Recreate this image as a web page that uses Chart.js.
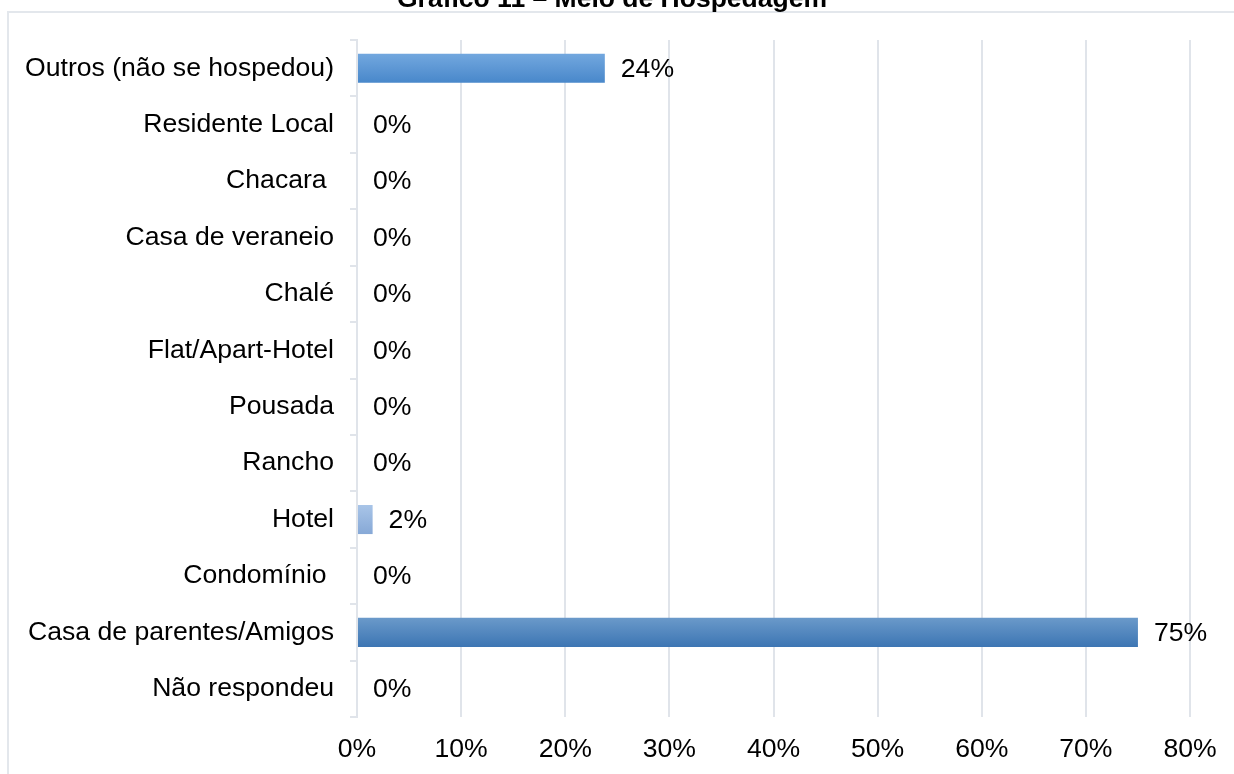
<!DOCTYPE html>
<html>
<head>
<meta charset="utf-8">
<script src="https://cdn.jsdelivr.net/npm/chart.js@4"></script>
<style>
  html, body { margin: 0; padding: 0; background: #fff; overflow: hidden; }
  #wrap { position: relative; width: 1234px; height: 774px; overflow: hidden; }
  #frame { position: absolute; left: 7px; top: 11px; width: 1300px; height: 800px;
           border: 2px solid #e3e7ec; box-sizing: border-box; }
  canvas { position: absolute; left: 0; top: 0; }
</style>
</head>
<body>
<div id="wrap">
  <div id="frame"></div>
  <canvas id="c" width="1234" height="774"></canvas>
</div>
<script>
// ---- data ----
const titleText = 'Gráfico 11 – Meio de Hospedagem';
const categories = [
  'Outros (não se hospedou)',
  'Residente Local',
  'Chacara ',
  'Casa de veraneio',
  'Chalé',
  'Flat/Apart-Hotel',
  'Pousada',
  'Rancho',
  'Hotel',
  'Condomínio ',
  'Casa de parentes/Amigos',
  'Não respondeu'
];
const percentValues = [23.8, 0, 0, 0, 0, 0, 0, 0, 1.5, 0, 75, 0];
const valueLabels = ['24%', '0%', '0%', '0%', '0%', '0%', '0%', '0%', '2%', '0%', '75%', '0%'];
const xTickValues = [0, 10, 20, 30, 40, 50, 60, 70, 80];

// ---- styles ----
const FONT = '"Liberation Sans", Arial, sans-serif';
const FONT_SIZE = 26.6;
const gridColor = '#e0e4ea';
const barShades = {
  default: ['#73a8df', '#4887ca'],
  light:   ['#a9c5e8', '#86a8d6'],
  dark:    ['#6b9aca', '#3c75b3']
};
const shadeForIndex = i => (i === 8 ? barShades.light : (i === 10 ? barShades.dark : barShades.default));

const titlePlugin = {
  id: 'cutTitle',
  afterDraw(chart) {
    const ctx = chart.ctx;
    ctx.save();
    ctx.font = 'bold 26.5px ' + FONT;
    ctx.fillStyle = '#000';
    ctx.textAlign = 'center';
    ctx.textBaseline = 'alphabetic';
    ctx.fillText(titleText, 612, 7);
    ctx.restore();
  }
};

const valueLabelPlugin = {
  id: 'valueLabels',
  afterDatasetsDraw(chart) {
    const ctx = chart.ctx;
    const meta = chart.getDatasetMeta(0);
    ctx.save();
    ctx.font = FONT_SIZE + 'px ' + FONT;
    ctx.fillStyle = '#000';
    ctx.textAlign = 'left';
    ctx.textBaseline = 'middle';
    meta.data.forEach((bar, i) => {
      ctx.fillText(valueLabels[i], bar.x + 16, bar.y + 1);
    });
    ctx.restore();
  }
};

new Chart(document.getElementById('c'), {
  type: 'bar',
  data: {
    labels: categories,
    datasets: [{
      data: percentValues,
      backgroundColor(context) {
        const chart = context.chart;
        const i = context.dataIndex;
        const shade = shadeForIndex(i);
        const ys = chart.scales && chart.scales.y;
        if (!ys || !chart.chartArea || i === undefined) return shade[1];
        const c = ys.getPixelForValue(i);
        const half = 15;
        const g = chart.ctx.createLinearGradient(0, c - half, 0, c + half);
        g.addColorStop(0, shade[0]);
        g.addColorStop(1, shade[1]);
        return g;
      },
      borderWidth: 0,
      barPercentage: 0.515,
      categoryPercentage: 1
    }]
  },
  options: {
    indexAxis: 'y',
    responsive: false,
    animation: false,
    events: [],
    layout: { padding: { left: 0, right: 44, top: 40, bottom: 0 } },
    plugins: {
      legend: { display: false },
      tooltip: { enabled: false },
      title: { display: false }
    },
    scales: {
      x: {
        type: 'linear',
        min: 0,
        max: 80,
        afterBuildTicks(scale) { scale.ticks = xTickValues.map(v => ({ value: v })); },
        afterFit(scale) { scale.height = 57; },
        ticks: {
          callback: v => v + '%',
          color: '#000',
          font: { family: FONT, size: FONT_SIZE },
          padding: 17,
          maxRotation: 0
        },
        grid: { color: gridColor, lineWidth: 2, drawTicks: false },
        border: { display: false }
      },
      y: {
        afterFit(scale) { scale.width = 357; },
        ticks: {
          color: '#000',
          font: { family: FONT, size: FONT_SIZE },
          padding: 16,
          autoSkip: false
        },
        grid: { drawOnChartArea: false, color: gridColor, lineWidth: 2, tickLength: 7, offset: true },
        border: { display: true, color: gridColor, width: 2 }
      }
    }
  },
  plugins: [valueLabelPlugin, titlePlugin]
});
</script>
</body>
</html>
